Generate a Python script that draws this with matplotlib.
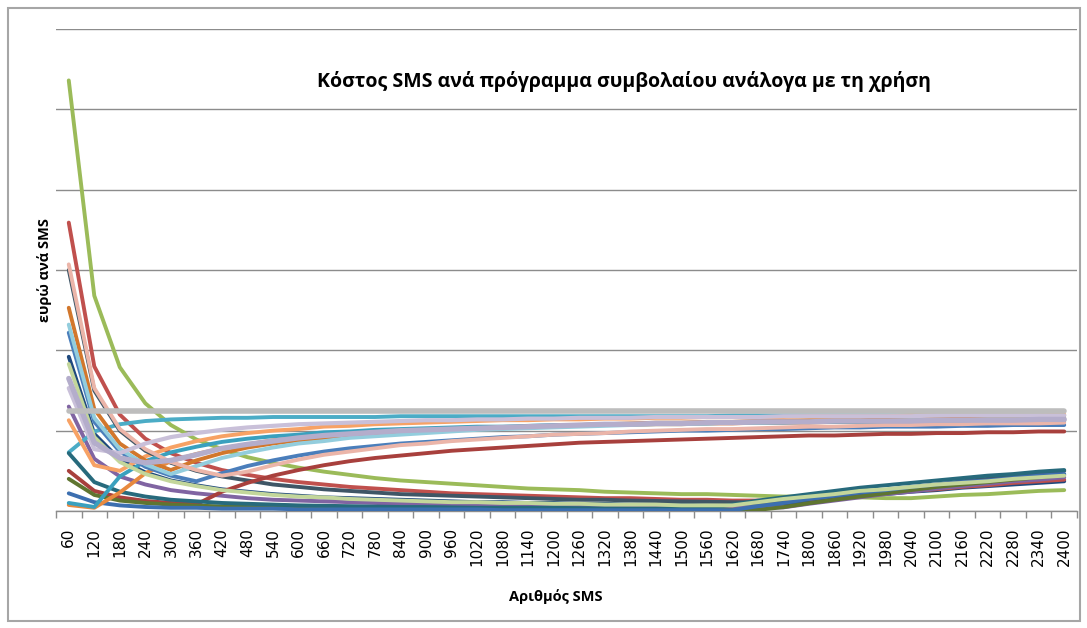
import numpy as np
import matplotlib
matplotlib.use("Agg")
import matplotlib.pyplot as plt
from matplotlib.patches import Rectangle

# Number of SMS per month (category axis)
sms_counts = [60, 120, 180, 240, 300, 360, 420, 480, 540, 600,
              660, 720, 780, 840, 900, 960, 1020, 1080, 1140, 1200,
              1260, 1320, 1380, 1440, 1500, 1560, 1620, 1680, 1740, 1800,
              1860, 1920, 1980, 2040, 2100, 2160, 2220, 2280, 2340, 2400]

# Cost per SMS (euro) for each contract plan
s_navy = [.192, .096, .064, .048, .038, .032, .027, .024, .021, .019,
          .017, .016, .015, .014, .013, .012, .011, .011, .010, .010,
          .009, .009, .008, .008, .008, .007, .007, .007, .009, .013,
          .016, .019, .021, .024, .026, .029, .031, .033, .035, .037]
s_red = [.359, .180, .120, .090, .072, .060, .051, .045, .040, .036,
         .033, .030, .028, .026, .024, .022, .021, .020, .019, .018,
         .017, .016, .016, .015, .014, .014, .013, .013, .012, .012,
         .015, .019, .022, .025, .027, .030, .032, .035, .037, .039]
s_green = [.536, .268, .179, .134, .107, .089, .077, .067, .060, .054,
           .049, .045, .041, .038, .036, .034, .032, .030, .028, .027,
           .026, .024, .023, .022, .021, .021, .020, .019, .018, .018,
           .017, .017, .016, .016, .018, .020, .021, .023, .025, .026]
s_purple = [.130, .065, .043, .033, .026, .022, .019, .016, .014, .013,
            .012, .011, .010, .009, .009, .008, .008, .007, .007, .0065,
            .0062, .0059, .0057, .0054, .0052, .005, .0048, .0046, .0045, .009,
            .013, .017, .021, .024, .028, .031, .034, .037, .039, .042]
s_aqua = [.073, .099, .108, .112, .114, .115, .116, .116, .117, .117,
          .117, .117, .117, .118, .118, .118, .118, .118, .118, .118,
          .118, .118, .118, .118, .118, .118, .119, .119, .119, .119,
          .119, .119, .119, .119, .119, .119, .119, .119, .119, .119]
s_orange_lt = [.113, .057, .050, .068, .079, .087, .093, .097, .100, .102,
               .105, .106, .108, .109, .110, .111, .112, .113, .113, .114,
               .114, .115, .115, .116, .116, .117, .117, .117, .117, .118,
               .118, .118, .118, .119, .119, .119, .119, .119, .119, .120]
s_slate = [.300, .150, .100, .075, .060, .050, .043, .038, .033, .030,
           .027, .025, .023, .021, .020, .019, .018, .017, .016, .015,
           .014, .014, .013, .0125, .012, .0115, .011, .0107, .0103, .010,
           .015, .020, .025, .029, .033, .037, .040, .044, .047, .050]
s_red_dk = [.050, .025, .017, .0125, .010, .0083, .024, .035, .044, .051,
            .057, .062, .066, .069, .072, .075, .077, .079, .081, .083,
            .085, .086, .087, .088, .089, .090, .091, .092, .093, .094,
            .094, .095, .096, .096, .097, .097, .098, .098, .099, .099]
s_green_dk = [.040, .020, .013, .010, .008, .0067, .0057, .005, .0044, .004,
              .0036, .0033, .0031, .0029, .0027, .0025, .0024, .0022, .0021, .002,
              .0019, .0018, .0017, .0017, .0016, .0015, .0015, .0014, .0048, .0097,
              .014, .018, .022, .026, .030, .033, .036, .039, .042, .045]
s_teal = [.072, .036, .024, .018, .014, .012, .010, .009, .008, .007,
          .0065, .006, .0055, .005, .005, .0045, .004, .004, .004, .004,
          .0035, .0033, .0031, .003, .0029, .0028, .008, .013, .017, .021,
          .025, .029, .032, .035, .038, .041, .044, .046, .049, .051]
s_blue_lo = [.022, .011, .007, .005, .004, .004, .003, .003, .003, .002,
             .002, .002, .002, .002, .002, .002, .002, .001, .001, .001,
             .001, .001, .001, .001, .001, .001, .001, .006, .010, .015,
             .019, .023, .026, .030, .033, .036, .038, .041, .044, .046]
s_orange_lo = [.0075, .004, .023, .047, .062, .071, .078, .083, .088, .091,
               .093, .096, .098, .099, .101, .102, .103, .104, .105, .105,
               .106, .107, .107, .108, .108, .109, .109, .110, .110, .110,
               .111, .111, .111, .111, .112, .112, .112, .112, .113, .113]
s_teal_lo = [.010, .005, .043, .062, .073, .080, .086, .090, .093, .095,
             .098, .099, .101, .102, .103, .104, .105, .105, .106, .107,
             .107, .108, .108, .109, .109, .109, .110, .110, .110, .111,
             .111, .111, .111, .111, .112, .112, .112, .112, .112, .112]
s_green_lt = [.183, .092, .061, .046, .037, .031, .026, .023, .020, .018,
              .017, .015, .014, .013, .012, .011, .011, .010, .010, .009,
              .009, .008, .008, .008, .007, .007, .007, .011, .015, .018,
              .021, .025, .027, .030, .033, .035, .037, .040, .042, .044]
s_blue = [.222, .111, .074, .055, .044, .037, .047, .056, .063, .069,
          .074, .078, .081, .084, .086, .088, .090, .092, .093, .095,
          .096, .097, .098, .099, .100, .100, .101, .102, .102, .103,
          .104, .104, .105, .105, .105, .106, .106, .107, .107, .107]
s_orange_dk = [.253, .127, .084, .063, .051, .063, .072, .079, .084, .088,
               .091, .094, .096, .098, .100, .102, .103, .104, .105, .106,
               .107, .108, .109, .110, .110, .111, .111, .112, .112, .113,
               .113, .113, .114, .114, .114, .115, .115, .115, .115, .116]
s_aqua_lt = [.232, .116, .077, .058, .046, .056, .066, .073, .079, .084,
             .087, .091, .093, .095, .097, .099, .101, .102, .103, .104,
             .105, .106, .107, .108, .108, .109, .110, .110, .111, .111,
             .112, .112, .112, .113, .113, .113, .114, .114, .114, .115]
s_pink = [.307, .153, .102, .077, .061, .051, .044, .049, .057, .064,
          .070, .074, .078, .082, .084, .087, .089, .091, .093, .095,
          .096, .097, .099, .100, .101, .102, .102, .103, .104, .105,
          .105, .106, .107, .107, .108, .108, .109, .109, .109, .110]
s_lavender2 = [.153, .077, .072, .084, .092, .097, .101, .104, .106, .108,
               .109, .110, .111, .112, .113, .113, .114, .114, .115, .115,
               .116, .116, .116, .117, .117, .117, .117, .117, .118, .118,
               .118, .118, .118, .118, .119, .119, .119, .119, .119, .119]
s_lavender = [.165, .085, .066, .060, .063, .070, .078, .083, .087, .091,
              .094, .096, .098, .100, .101, .102, .103, .104, .105, .106,
              .107, .108, .108, .109, .109, .110, .110, .111, .111, .111,
              .112, .112, .112, .112, .113, .113, .113, .113, .114, .114]
s_gray = [.124, .124, .124, .124, .124, .124, .124, .124, .124, .124,
          .124, .124, .124, .124, .124, .124, .124, .124, .124, .124,
          .124, .124, .124, .124, .124, .124, .124, .124, .124, .124,
          .124, .124, .124, .124, .124, .124, .124, .124, .124, .124]

# (values, colour, width) in drawing order
series = [
    (s_navy, '#1F497D', 2.8),
    (s_red, '#C0504D', 2.8),
    (s_green, '#9BBB59', 2.8),
    (s_purple, '#8064A2', 2.8),
    (s_aqua, '#4BACC6', 2.8),
    (s_orange_lt, '#F7A265', 2.8),
    (s_slate, '#3F5666', 2.8),
    (s_red_dk, '#A8403D', 2.8),
    (s_green_dk, '#5F7530', 2.8),
    (s_teal, '#276A7C', 2.8),
    (s_blue_lo, '#3C6FB0', 2.8),
    (s_orange_lo, '#E8893E', 2.8),
    (s_teal_lo, '#3AA0BE', 2.8),
    (s_green_lt, '#C3D69B', 2.8),
    (s_blue, '#4A7EBB', 2.8),
    (s_orange_dk, '#D2772C', 2.8),
    (s_aqua_lt, '#93CDDD', 2.8),
    (s_pink, '#EBB5A9', 2.8),
    (s_lavender2, '#C9C0D9', 3.0),
    (s_lavender, '#B4ADCB', 3.8),
    (s_gray, '#BDBDBD', 4.0),
]

W, H = 1087, 628
fig = plt.figure(figsize=(W / 100, H / 100), dpi=100)
fig.patch.set_facecolor('white')

# chart-area frame
fig.add_artist(Rectangle((8 / W, 1 - 621 / H), (1080 - 8) / W, (621 - 8) / H,
                         transform=fig.transFigure, fill=False,
                         edgecolor='#A6A6A6', linewidth=1.5))

left, right = 56 / W, 1077 / W
bottom, top = 1 - 511 / H, 1 - 29 / H
ax = fig.add_axes([left, bottom, right - left, top - bottom])

x = np.arange(len(sms_counts))
for vals, col, lw in series:
    ax.plot(x, vals, color=col, linewidth=lw, solid_joinstyle='round',
            solid_capstyle='round', zorder=3)

ax.set_xlim(-0.5, len(sms_counts) - 0.5)
ax.set_ylim(0, 0.6)
ax.set_yticks(np.arange(0, 0.61, 0.1))
ax.yaxis.grid(True, color='#8C8C8C', linewidth=1.0)
ax.set_axisbelow(True)
ax.tick_params(axis='y', left=False, labelleft=False)

ax.set_xticks(x)
ax.set_xticklabels([str(v) for v in sms_counts], rotation=90,
                   fontsize=11, family='DejaVu Sans', color='#000000')
ax.set_xticks(np.arange(-0.5, len(sms_counts)), minor=True)
ax.tick_params(axis='x', which='major', length=0, pad=12)
ax.tick_params(axis='x', which='minor', length=5, color='#8C8C8C', width=1)

for side in ('left', 'right', 'top'):
    ax.spines[side].set_visible(False)
ax.spines['bottom'].set_color('#8C8C8C')
ax.spines['bottom'].set_linewidth(1.0)

fig.text(624 / W, 1 - 82 / H,
         'Κόστος SMS ανά πρόγραμμα συμβολαίου ανάλογα με τη χρήση',
         ha='center', va='center', fontsize=14, fontweight='bold',
         family='Open Sans')
fig.text(556 / W, 1 - 597 / H, 'Αριθμός SMS', ha='center', va='center',
         fontsize=10.5, fontweight='bold', family='Open Sans')
fig.text(45 / W, 1 - 270 / H, 'ευρώ ανά SMS', ha='center', va='center',
         rotation=90, fontsize=10.5, fontweight='bold', family='Open Sans')

fig.savefig('out.png', dpi=100, facecolor='white')
